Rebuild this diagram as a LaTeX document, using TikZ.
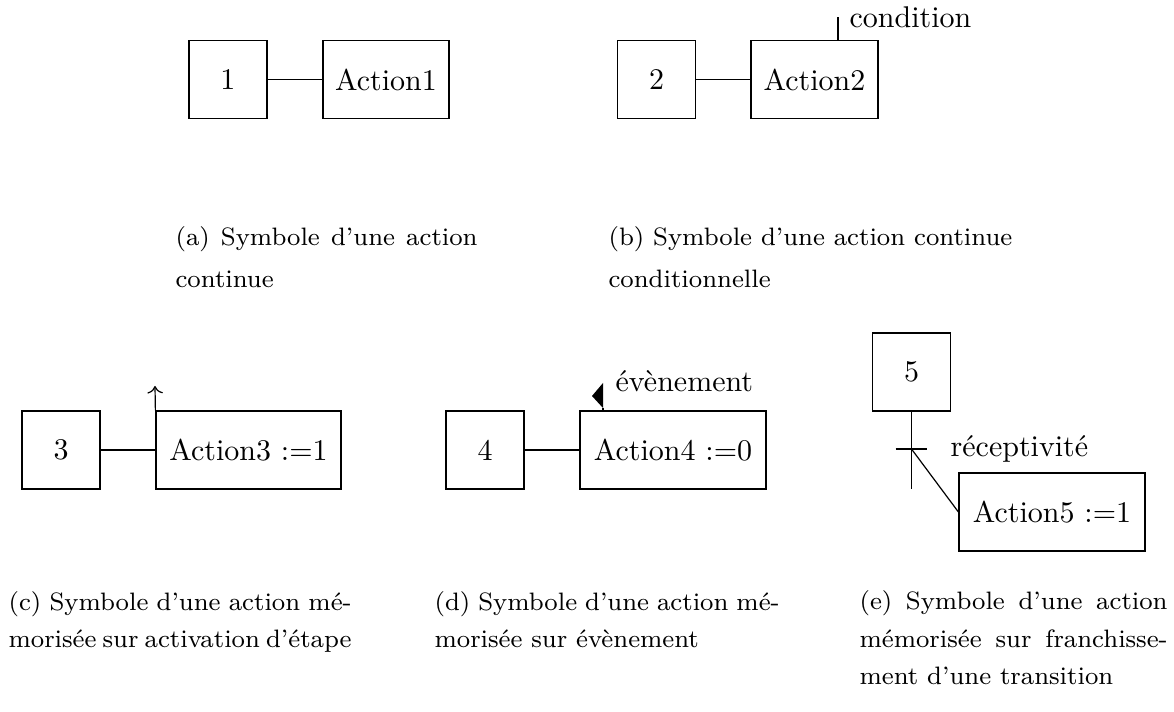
\documentclass[tikz,border=0pt]{standalone}
\usetikzlibrary{arrows.meta}
\begin{document}
\begin{tikzpicture}[x=0.33333pt,y=-0.33333pt,
  every node/.style={font=\fontsize{10}{12}\selectfont},
  stepbox/.style={draw, minimum width=26pt, minimum height=26pt, inner sep=0pt},
  actbox/.style={draw, minimum height=26pt, inner sep=0pt},
  lbl/.style={anchor=base west, inner sep=0pt},
  capab/.style={anchor=base west, inner sep=0pt, align=left, font=\fontsize{8.4}{14}\selectfont},
  capcde/.style={anchor=base west, inner sep=0pt, align=left, font=\fontsize{8.4}{12.5}\selectfont},
]
\useasboundingbox (0,0) rectangle (1174,712);

% (a)
\node[stepbox] (s1) at (228,79.5) {1};
\node[actbox, minimum width=42pt] (a1) at (386,79.5) {Action1};
\draw (s1) -- (a1);

% (b)
\node[stepbox] (s2) at (656.5,79.5) {2};
\node[actbox, minimum width=42.33pt] (a2) at (814.5,79.5) {Action2};
\draw (s2) -- (a2);
\coordinate (c2) at (838,17);
\draw (a2.north -| c2) -- (c2);
\node[lbl] (t2) at (849,28) {condition};

% captions (a), (b): anchor = baseline of the last line
\node[capab] (capa) at (175,288) {\makebox[100.67pt][s]{(a) Symbole d’une action}\\continue};
\node[capab] (capb) at (608,288) {(b) Symbole d’une action continue\\conditionnelle};

% (c)
\node[stepbox] (s3) at (61,450) {3};
\node[actbox, minimum width=61.67pt] (a3) at (248.5,450) {Action3 :=1};
\draw (s3) -- (a3);
\coordinate (c3) at (155,386);
\draw[->] (a3.north west) -- (c3);

% (d)
\node[stepbox] (s4) at (485,450) {4};
\node[actbox, minimum width=62pt] (a4) at (673,450) {Action4 :=0};
\draw (s4) -- (a4);
\coordinate (e4a) at (603,383);
\coordinate (e4b) at (592,396);
\coordinate (e4c) at (603,408);
\fill (e4a) -- (e4b) -- (e4c) -- cycle;
\draw (e4c) -- (a4.north -| e4c);
\node[lbl] (t4) at (615,392) {évènement};

% (e)
\node[stepbox] (s5) at (911.5,372) {5};
\node[actbox, minimum width=62pt] (a5) at (1052,512) {Action5 :=1};
\coordinate (tr5) at (911.5,449);
\coordinate (e5) at (911.5,489);
\draw (s5) -- (e5);
\draw ([xshift=-5.33pt]tr5) -- ([xshift=5.33pt]tr5);
\draw (tr5) -- (a5.west);
\node[lbl] (t5) at (950,457) {réceptivité};

% captions (c), (d), (e): anchor = baseline of the last line
\node[capcde] (capc) at (8,648) {\makebox[114.33pt][s]{(c) Symbole d’une action mé-}\\\makebox[114.33pt][s]{morisée sur activation d’étape}};
\node[capcde] (capd) at (434,648) {\makebox[115pt][s]{(d) Symbole d’une action mé-}\\morisée sur évènement};
\node[capcde] (cape) at (859,685) {\makebox[102.67pt][s]{(e) Symbole d’une action}\\\makebox[102.67pt][s]{mémorisée sur franchisse-}\\ment d’une transition};
\end{tikzpicture}
\end{document}
